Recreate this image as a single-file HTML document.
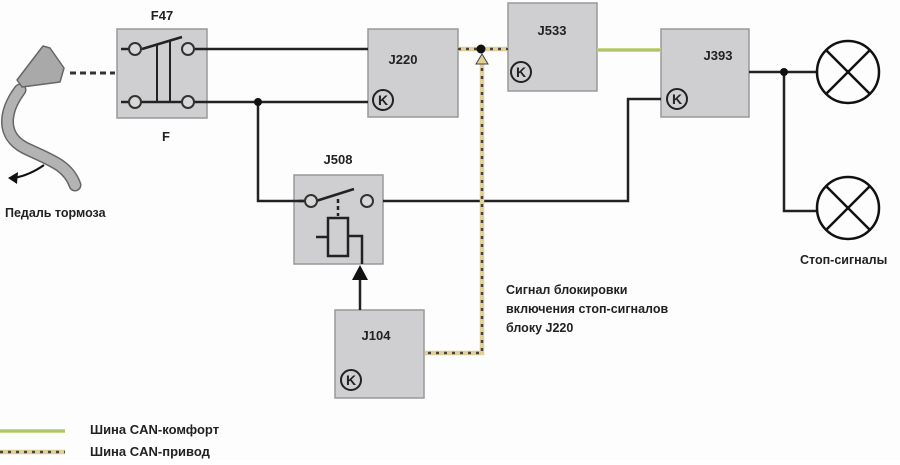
<!DOCTYPE html>
<html><head><meta charset="utf-8"><style>
body{margin:0;background:#fff}
svg text{font-family:"Liberation Sans",sans-serif;font-weight:bold;fill:#222}
</style></head><body>
<svg width="900" height="460" viewBox="0 0 900 460" xmlns="http://www.w3.org/2000/svg">
<rect width="900" height="460" fill="#fdfdfd"/>
<!-- pedal -->
<path d="M20,90 C5,110 0,135 25,148 C50,160 68,165 75,185" stroke="#666" stroke-width="13" fill="none" stroke-linecap="round"/>
<path d="M20,90 C5,110 0,135 25,148 C50,160 68,165 75,185" stroke="#b3b3b3" stroke-width="10" fill="none" stroke-linecap="round"/>
<path d="M43,46 L50,48 L64,68 L60,82 L22,87 L17,80 Z" fill="#a9a9a9" stroke="#666" stroke-width="1.5" stroke-linejoin="round"/>
<path d="M44,165 Q30,175 14,178" stroke="#111" stroke-width="2" fill="none"/>
<path d="M8,178 L18,172 L17,184 Z" fill="#111"/>
<line x1="70" y1="73" x2="115" y2="73" stroke="#333" stroke-width="3" stroke-dasharray="6,4"/>
<text x="5" y="217" font-size="12.5">Педаль тормоза</text>
<!-- boxes -->
<g fill="#cfcfd1" stroke="#999" stroke-width="1.5">
<rect x="117" y="29" width="90" height="89"/>
<rect x="368" y="29" width="90" height="88"/>
<rect x="508" y="3" width="89" height="88"/>
<rect x="661" y="29" width="88" height="88"/>
<rect x="294" y="175" width="89" height="89"/>
<rect x="335" y="310" width="89" height="88"/>
</g>
<text x="162" y="20" font-size="13" text-anchor="middle">F47</text>
<text x="166" y="141" font-size="13" text-anchor="middle">F</text>
<text x="403" y="64" font-size="13" text-anchor="middle">J220</text>
<text x="552" y="35" font-size="13" text-anchor="middle">J533</text>
<text x="718" y="60" font-size="13" text-anchor="middle">J393</text>
<text x="338" y="164" font-size="13" text-anchor="middle">J508</text>
<text x="376" y="340" font-size="13" text-anchor="middle">J104</text>
<!-- wires -->
<g stroke="#222" stroke-width="2.5" fill="none">
<line x1="194" y1="49" x2="368" y2="49"/>
<line x1="194" y1="102" x2="368" y2="102"/>
<polyline points="258,102 258,201 304,201"/>
<polyline points="383,201 628,201 628,99 661,99"/>
<line x1="749" y1="72" x2="818" y2="72"/>
<polyline points="784,72 784,211 818,211"/>
<line x1="121" y1="49" x2="129" y2="49"/>
<line x1="121" y1="102" x2="188" y2="102"/>
<line x1="142" y1="49" x2="182" y2="37"/>
<line x1="157" y1="45" x2="157" y2="102" stroke-width="2"/>
<line x1="170" y1="41" x2="170" y2="102" stroke-width="2"/>
<line x1="298" y1="201" x2="305" y2="201"/>
<line x1="316" y1="201" x2="354" y2="189"/>
<line x1="338" y1="199" x2="338" y2="216" stroke-dasharray="4,3"/>
<rect x="328" y="218" width="20" height="38"/>
<line x1="316" y1="237" x2="328" y2="237"/>
<polyline points="348,236 362,236 362,264"/>
<line x1="360" y1="310" x2="360" y2="278"/>
</g>
<path d="M352,280 L360,265 L368,280 Z" fill="#111"/>
<g fill="#d8d8d8" stroke="#333" stroke-width="2">
<circle cx="135" cy="49" r="6"/><circle cx="188" cy="49" r="6"/>
<circle cx="135" cy="102" r="6"/><circle cx="188" cy="102" r="6"/>
<circle cx="311" cy="201" r="6"/><circle cx="367" cy="201" r="6"/>
</g>
<circle cx="258" cy="102" r="4" fill="#111"/>
<circle cx="784" cy="72" r="4" fill="#111"/>
<!-- K symbols -->
<g font-size="14" text-anchor="middle">
<g stroke="#222" stroke-width="2" fill="none">
<circle cx="383" cy="100" r="10"/><circle cx="521" cy="72" r="10"/>
<circle cx="677" cy="99" r="10"/><circle cx="351" cy="380" r="10"/>
</g>
<text x="383" y="105">K</text><text x="521" y="77">K</text>
<text x="677" y="104">K</text><text x="351" y="385">K</text>
</g>
<!-- lamps -->
<g stroke="#111" stroke-width="2.5" fill="none">
<circle cx="848" cy="72" r="31"/>
<line x1="826" y1="50" x2="870" y2="94"/><line x1="870" y1="50" x2="826" y2="94"/>
<circle cx="848" cy="208" r="31"/>
<line x1="826" y1="186" x2="870" y2="230"/><line x1="870" y1="186" x2="826" y2="230"/>
</g>
<text x="800" y="264" font-size="12.5">Стоп-сигналы</text>
<!-- CAN lines -->
<line x1="597" y1="50" x2="661" y2="50" stroke="#c7d98a" stroke-width="4"/>
<line x1="597" y1="50" x2="661" y2="50" stroke="#9ab04a" stroke-width="1"/>
<g fill="none">
<polyline points="458,49 508,49" stroke="#e3cf96" stroke-width="4.5"/>
<polyline points="482,60 482,353 425,353" stroke="#e3cf96" stroke-width="4.5"/>
<polyline points="458,49 508,49" stroke="#444" stroke-dasharray="3,5" stroke-width="2.5"/>
<polyline points="482,60 482,353 425,353" stroke="#444" stroke-dasharray="3,5" stroke-width="2.5"/>
</g>
<path d="M476,64 L482,54 L488,64 Z" fill="#e3cf96" stroke="#444" stroke-width="1"/>
<circle cx="481" cy="49" r="4.5" fill="#111"/>
<text x="506" y="294" font-size="12.5">Сигнал блокировки</text>
<text x="506" y="313" font-size="12.5">включения стоп-сигналов</text>
<text x="506" y="332" font-size="12.5">блоку J220</text>
<!-- legend -->
<line x1="0" y1="431" x2="65" y2="431" stroke="#c7d98a" stroke-width="4"/>
<line x1="0" y1="431" x2="65" y2="431" stroke="#9ab04a" stroke-width="1"/>
<line x1="0" y1="452" x2="65" y2="452" stroke="#e3cf96" stroke-width="4.5"/>
<line x1="0" y1="452" x2="65" y2="452" stroke="#444" stroke-width="2.5" stroke-dasharray="3,5"/>
<text x="90" y="434" font-size="13">Шина CAN-комфорт</text>
<text x="90" y="456" font-size="13">Шина CAN-привод</text>
</svg>
</body></html>
